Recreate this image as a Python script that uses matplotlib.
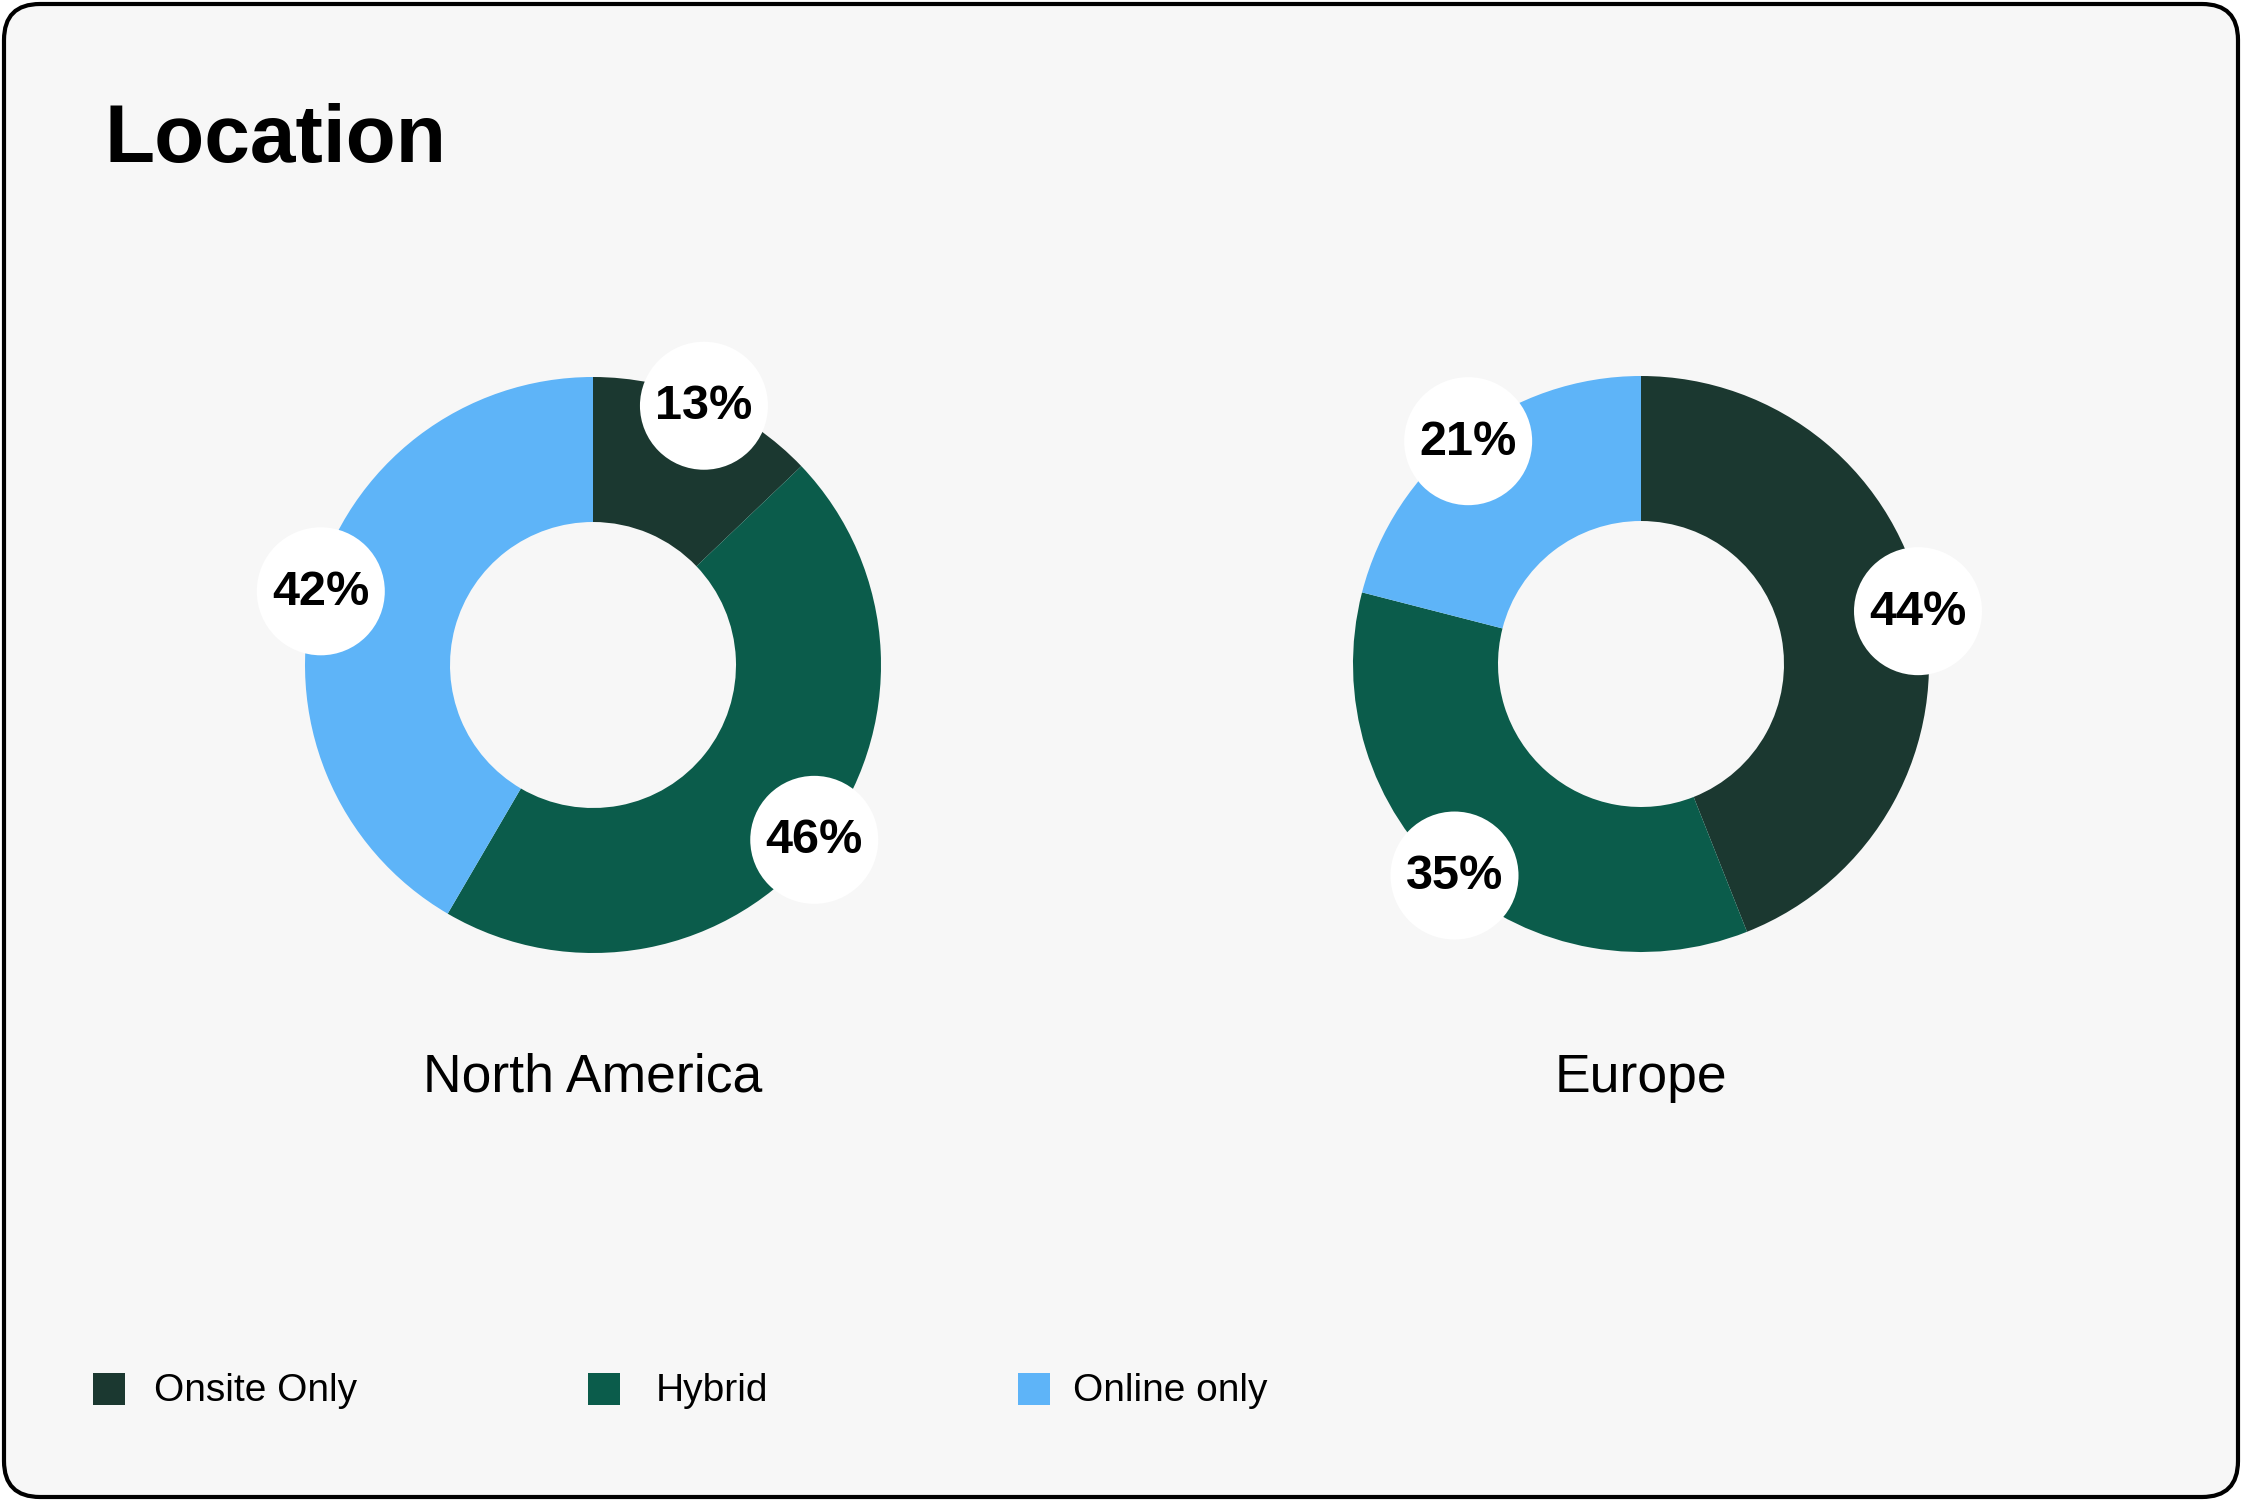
import matplotlib.pyplot as plt
import numpy as np
from matplotlib.patches import Circle, Rectangle, FancyBboxPatch

# data
categories = ['Onsite Only', 'Hybrid', 'Online only']
colors = ['#1B3830', '#0B5C4B', '#5EB4F8']
regions = ['North America', 'Europe']
north_america = [13, 46, 42]
europe = [44, 35, 21]

W, H = 2242, 1501
plt.rcParams['font.family'] = ['Liberation Sans', 'DejaVu Sans']

fig = plt.figure(figsize=(W / 100, H / 100), dpi=100)
fig.patch.set_facecolor('white')
ax = fig.add_axes([0, 0, 1, 1])

# card background
card = FancyBboxPatch((4, 4), W - 8, H - 8, boxstyle='round,pad=0,rounding_size=36',
                      linewidth=3, edgecolor='black', facecolor='#F7F7F7', zorder=0)
ax.add_patch(card)

R_OUT, R_IN = 288, 143
R_LABEL = 282
centers = [(593, 665), (1641, 664)]

for name, vals, (cx, cy) in zip(regions, [north_america, europe], centers):
    wedges, _ = ax.pie(vals, colors=colors, center=(cx, cy), radius=R_OUT,
                       startangle=270, counterclock=True,
                       wedgeprops=dict(width=R_OUT - R_IN, linewidth=0, edgecolor='none'))
    for w, v in zip(wedges, vals):
        mid = np.deg2rad((w.theta1 + w.theta2) / 2)
        lx = cx + R_LABEL * np.cos(mid)
        ly = cy + R_LABEL * np.sin(mid)
        ax.add_patch(Circle((lx, ly), 64, facecolor='white', edgecolor='none', zorder=5))
        ax.text(lx, ly + 1, f'{v}%', ha='center', va='center', fontsize=35,
                fontweight='bold', color='black', zorder=6)
    ax.text(cx, 1092, name, ha='center', va='baseline', fontsize=38.5, color='black')

# title
ax.text(104, 162, 'Location', ha='left', va='baseline', fontsize=59,
        fontweight='bold', color='black')

# legend
box_x = [93, 588, 1018]
text_x = [154, 656, 1073]
for cat, col, bx, tx in zip(categories, colors, box_x, text_x):
    ax.add_patch(Rectangle((bx, 1373), 32, 32, facecolor=col, edgecolor='none'))
    ax.text(tx, 1401, cat, ha='left', va='baseline', fontsize=28, color='black')

ax.set_xlim(0, W)
ax.set_ylim(H, 0)
ax.set_aspect('auto')
ax.axis('off')

fig.savefig('out.png', dpi=100, facecolor=fig.get_facecolor())
